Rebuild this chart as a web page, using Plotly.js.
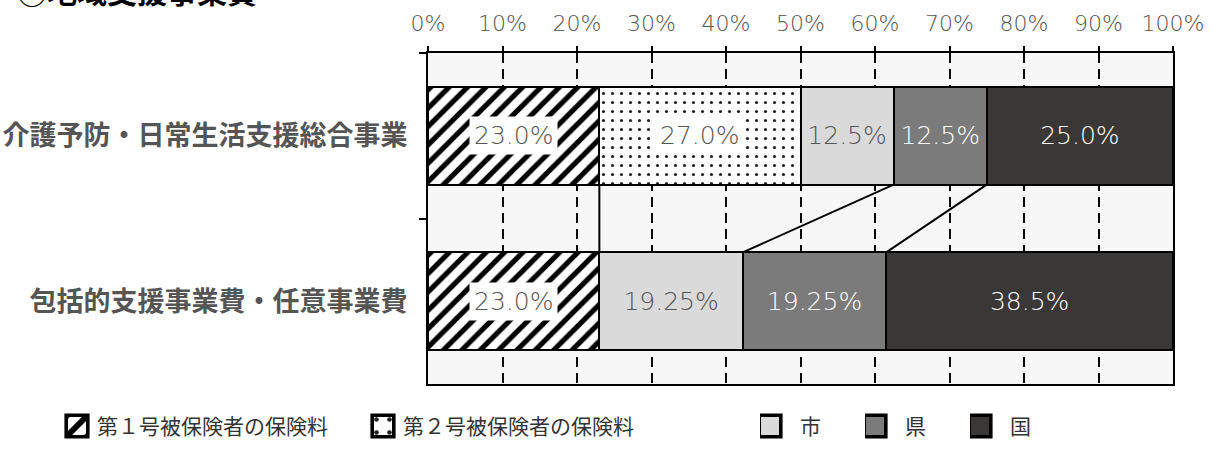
<!DOCTYPE html>
<html>
<head>
<meta charset="utf-8">
<script src="https://cdn.plot.ly/plotly-3.0.1.min.js"></script>
<style>
html,body{margin:0;padding:0;background:#fff;}
#chart{width:1212px;height:459px;}
</style>
</head>
<body>
<div id="chart"></div>
<script>
// ---- data ----
const categories = ['介護予防・日常生活支援総合事業', '包括的支援事業費・任意事業費'];
const seriesNames = ['第１号被保険者の保険料', '第２号被保険者の保険料', '市', '県', '国'];
const insured1 = [23.0, 23.0];
const insured2 = [27.0, null];
const city = [12.5, 19.25];
const prefecture = [12.5, 19.25];
const nation = [25.0, 38.5];
const xTickVals = [0, 10, 20, 30, 40, 50, 60, 70, 80, 90, 100];
const xTickLabels = ['0%', '10%', '20%', '30%', '40%', '50%', '60%', '70%', '80%', '90%', '100%'];
const chartTitle = '②地域支援事業費';

// ---- styles ----
const series = [insured1, insured2, city, prefecture, nation];
const fills = ['#ffffff', '#ffffff', '#dadada', '#7b7b7b', '#3a3836'];
const textColors = ['#555555', '#555555', '#555555', '#ffffff', '#ffffff'];
const patterns = [
  {shape: '/', fgcolor: '#000000', bgcolor: '#ffffff', size: 13, solidity: 0.4},
  {shape: '.', fgcolor: '#222222', bgcolor: '#ffffff', size: 9, solidity: 0.1},
  null, null, null
];
const legendX = [57, 363, 760, 865, 970];  // pixel left of each legend box
const swatchShift = [0, 0, -10, -10, -10];
const plotL = 428, plotR = 1173, plotT = 53, plotB = 397;
const plotW = plotR - plotL, plotH = plotB - plotT;
const barWidth = 0.59;
const numFont = 'DejaVu Sans, Liberation Sans, sans-serif';
const jpFont = 'Noto Sans CJK JP, sans-serif';

function fmt(v) { return (v * 10) % 1 ? v.toFixed(2) + '%' : v.toFixed(1) + '%'; }

const data = series.map((vals, i) => {
  const tr = {
    type: 'bar', orientation: 'h', name: seriesNames[i],
    y: categories, x: vals, width: barWidth,
    marker: {color: fills[i], line: {color: '#000000', width: 2}},
    legend: i === 0 ? 'legend' : 'legend' + (i + 1),
    hoverinfo: 'skip'
  };
  if (patterns[i]) {
    tr.marker.pattern = Object.assign({fillmode: 'replace'}, patterns[i]);
    tr.text = vals.map(() => '');
    tr.textposition = 'none';
  } else {
    tr.text = vals.map(v => v == null ? '' : fmt(v));
    tr.textposition = 'inside';
    tr.insidetextanchor = 'middle';
    tr.textangle = 0;
    tr.textfont = {family: numFont, size: 25, color: textColors[i], weight: 300};
  }
  return tr;
});

// annotations with white boxes for the patterned segments
const annotations = [];
const cum = categories.map(() => 0);
const bounds = categories.map(() => []);
series.forEach((vals, i) => {
  vals.forEach((v, j) => {
    const start = cum[j];
    if (v != null) {
      cum[j] += v;
      if (patterns[i]) {
        annotations.push({
          x: start + v / 2, y: j, xref: 'x', yref: 'y',
          text: fmt(v), showarrow: false,
          bgcolor: '#ffffff', borderpad: 4,
          font: {family: numFont, size: 25, color: '#555555', weight: 300}
        });
      }
    }
    bounds[j].push(cum[j]);
  });
});

annotations.push({
  text: '<b>' + chartTitle + '</b>', xref: 'paper', yref: 'paper',
  x: (15 - plotL) / plotW, y: 1 + (plotT - 12) / plotH,
  xanchor: 'left', yanchor: 'bottom', showarrow: false,
  font: {family: jpFont, size: 30, color: '#000000'}
});

// connector shapes derived from cumulative sums
const half = barWidth / 2;
const shapes = [
  {type: 'line', xref: 'x', yref: 'y', x0: bounds[0][0], x1: bounds[1][0], y0: 0 + half, y1: 1 - half,
   line: {color: '#000000', width: 2}},
  {type: 'line', xref: 'x', yref: 'y', x0: bounds[0][2], x1: bounds[1][2], y0: 0 + half, y1: 1 - half,
   line: {color: '#000000', width: 2}},
  {type: 'line', xref: 'x', yref: 'y', x0: bounds[0][3], x1: bounds[1][3], y0: 0 + half, y1: 1 - half,
   line: {color: '#000000', width: 2}}
];

const layout = {
  width: 1212, height: 459,
  margin: {l: plotL, r: 1212 - plotR, t: plotT, b: 459 - plotB, pad: 0},
  paper_bgcolor: '#ffffff', plot_bgcolor: '#f7f7f7',
  barmode: 'stack',
  showlegend: true,
  xaxis: {
    side: 'top', range: [0, 100], tickmode: 'array', tickvals: xTickVals, ticktext: xTickLabels,
    showgrid: true, gridcolor: '#000000', gridwidth: 1.5, griddash: '10px,6px',
    showline: true, linecolor: '#000000', linewidth: 2, mirror: true,
    ticks: 'outside', ticklen: 5, tickwidth: 2, tickcolor: '#000000',
    ticklabelstandoff: 6,
    tickfont: {family: numFont, size: 22, color: '#555555', weight: 300},
    zeroline: false, fixedrange: true
  },
  yaxis: {
    type: 'category', categoryorder: 'array', categoryarray: categories,
    range: [1.5, -0.5], tickson: 'boundaries',
    showgrid: false, showline: true, linecolor: '#000000', linewidth: 2, mirror: true,
    ticks: 'outside', ticklen: 7, tickwidth: 2, tickcolor: '#000000',
    ticklabelstandoff: 13,
    tickfont: {family: jpFont, size: 27, color: '#555555', weight: 'bold'},
    zeroline: false, fixedrange: true
  },
  annotations: annotations,
  shapes: shapes
};

legendX.forEach((px, i) => {
  const key = i === 0 ? 'legend' : 'legend' + (i + 1);
  layout[key] = {
    x: (px - plotL) / plotW, xanchor: 'left',
    y: (plotB - 441) / plotH, yanchor: 'middle',
    orientation: 'h', bgcolor: 'rgba(0,0,0,0)', borderwidth: 0,
    font: {family: jpFont, size: 21, color: '#333333'}
  };
});

Plotly.newPlot('chart', data, layout, {displayModeBar: false, responsive: false}).then(gd => {
  legendX.forEach((px, i) => {
    const cls = i === 0 ? '.legend' : '.legend' + (i + 1);
    const g = gd.querySelector('g' + cls);
    if (!g) return;
    g.querySelectorAll('.legendpoints path').forEach(p => {
      const old = p.getAttribute('transform') || '';
      p.setAttribute('transform', old + ' translate(' + swatchShift[i] + ',0) scale(1.8,1.8)');
    });
  });
});
</script>
</body>
</html>
